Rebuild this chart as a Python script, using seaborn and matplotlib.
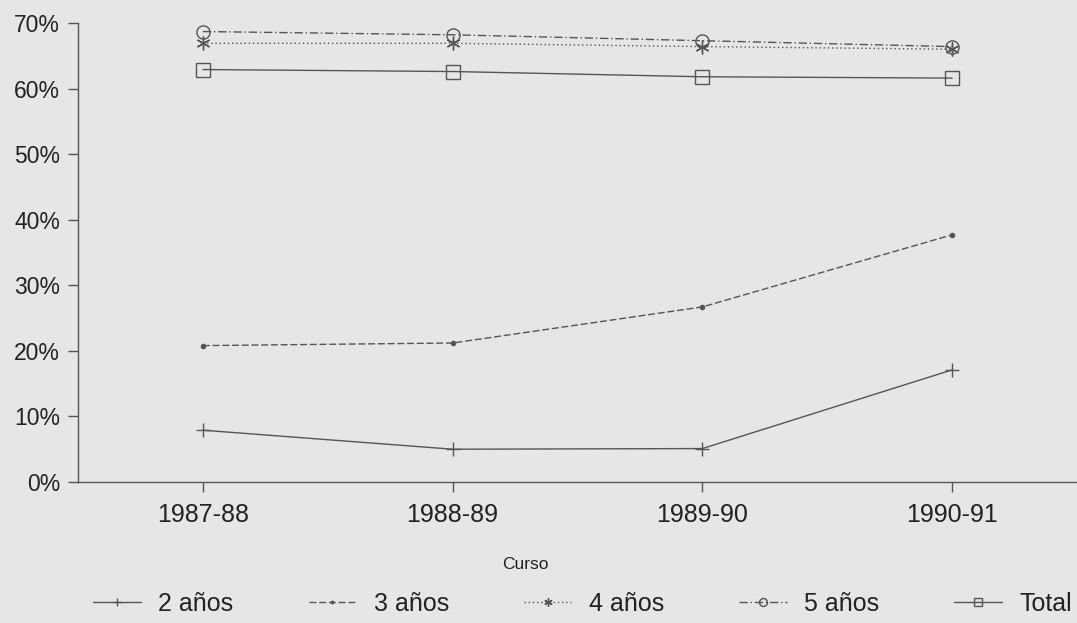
import matplotlib
matplotlib.use("Agg")
import matplotlib.pyplot as plt
import seaborn as sns
import pandas as pd
from matplotlib.ticker import FuncFormatter

cursos = ["1987-88", "1988-89", "1989-90", "1990-91"]
series_names = ["2 años", "3 años", "4 años", "5 años", "Total"]
v_2anos = [7.9, 5.0, 5.1, 17.1]
v_3anos = [20.8, 21.2, 26.7, 37.7]
v_4anos = [66.9, 66.9, 66.4, 66.0]
v_5anos = [68.7, 68.2, 67.3, 66.4]
v_total = [62.9, 62.6, 61.8, 61.6]
values = [v_2anos, v_3anos, v_4anos, v_5anos, v_total]

sns.set_theme(style="white")
plt.rcParams['font.family'] = ['Liberation Sans', 'DejaVu Sans']

bg = "#e6e6e6"
col = "#555555"
fig = plt.figure(figsize=(10.77, 6.23), dpi=100, facecolor=bg)
ax = fig.add_axes([78/1077, 1-482/623, 999/1077, (482-23)/623])
ax.set_facecolor(bg)

styles = {
    "2 años": dict(marker="+", linestyle="-", ms=10, mew=1.0),
    "3 años": dict(marker="o", linestyle=(0, (5, 2)), ms=3, mew=1.0),
    "4 años": dict(marker=(6, 2, 0), linestyle=(0, (1, 2)), ms=10, mew=1.0),
    "5 años": dict(marker="o", linestyle=(0, (6, 2, 1, 2)), ms=9.5, mew=1.0, mfc="none"),
    "Total": dict(marker="s", linestyle="-", ms=9.5, mew=1.0, mfc="none"),
}

for name, vals in zip(series_names, values):
    df = pd.DataFrame({"Curso": cursos, "v": vals})
    st = styles[name]
    sns.lineplot(data=df, x="Curso", y="v", ax=ax, color=col, lw=1.0,
                 marker=st["marker"], linestyle=st["linestyle"],
                 markersize=st["ms"], markeredgewidth=st["mew"],
                 markeredgecolor=col,
                 markerfacecolor=st.get("mfc", col), label=name)

ax.set_ylim(0, 70)
ax.set_xlim(-0.5, 3.5)
ax.set_yticks(range(0, 71, 10))
ax.yaxis.set_major_formatter(FuncFormatter(lambda v, p: f"{int(v)}%"))
for s in ["top", "right"]:
    ax.spines[s].set_visible(False)
for s in ["left", "bottom"]:
    ax.spines[s].set_color(col)
    ax.spines[s].set_linewidth(1.0)
ax.tick_params(axis="both", direction="out", length=7, width=1, color=col,
               labelcolor="#222222", left=True, bottom=True)
ax.tick_params(axis="x", pad=8, labelsize=18)
ax.tick_params(axis="y", pad=6, labelsize=16.5)
ax.set_ylabel("")
ax.set_xlabel("Curso", fontsize=12.5, color="#222222")
ax.xaxis.set_label_coords((525-78)/999, -(562-482)/459 + 0.01)

if ax.legend_:
    ax.legend_.remove()
handles, labels = ax.get_legend_handles_labels()
fig.legend(handles, labels, ncol=5, loc="center", bbox_to_anchor=(0.541, 0.031),
           frameon=False, fontsize=18, handlelength=1.9, columnspacing=3.0,
           handletextpad=0.7, labelcolor="#222222", markerscale=0.6)

fig.savefig("out.png", dpi=100, facecolor=bg)
